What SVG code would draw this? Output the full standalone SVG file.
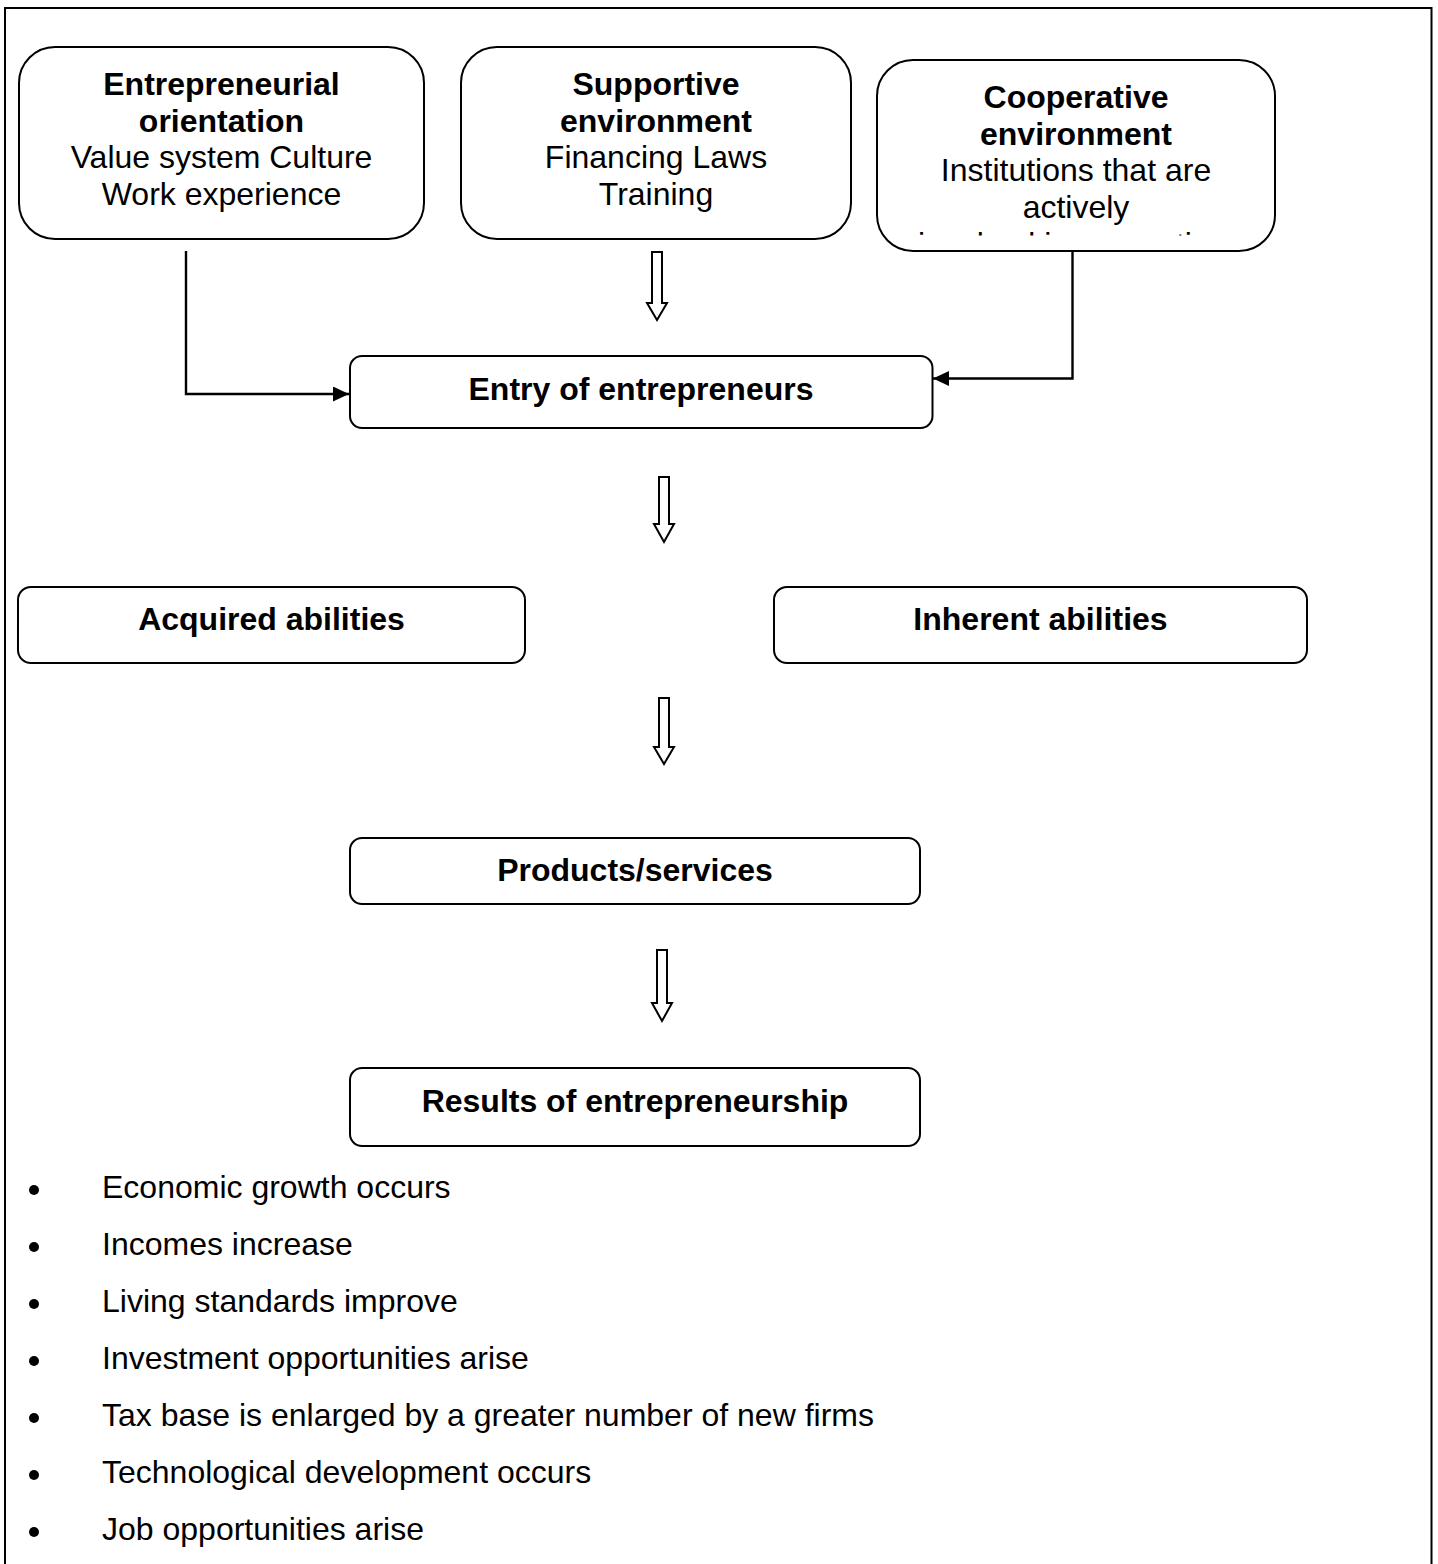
<svg xmlns="http://www.w3.org/2000/svg" width="1438" height="1564" viewBox="0 0 1438 1564">
<style>
  .box { fill: #ffffff; stroke: #000000; stroke-width: 2; }
  .frame { fill: none; stroke: #000000; stroke-width: 2; }
  .t { font-family: "Liberation Sans", Arial, sans-serif; font-size: 32px; fill: #000000; text-anchor: middle; }
  .b { font-weight: bold; }
  .bl { font-family: "Liberation Sans", Arial, sans-serif; font-size: 32px; fill: #000000; }
  .conn { fill: none; stroke: #000000; stroke-width: 2.4; }
  .hollow { fill: #ffffff; stroke: #000000; stroke-width: 2; stroke-linejoin: miter; }
</style>
<defs>
  <marker id="arr" markerUnits="userSpaceOnUse" markerWidth="17" markerHeight="15" refX="16" refY="7.5" orient="auto">
    <path d="M0,0 L16,7.5 L0,15 Z" fill="#000000"/>
  </marker>
  <clipPath id="clip3">
    <rect x="877" y="60" width="398" height="175.5"/>
  </clipPath>
</defs>
<rect width="1438" height="1564" fill="#ffffff"/>
<path class="frame" d="M5,1564 V8 H1431.5 V1564"/>

<g id="connectors">
  <path class="conn" d="M186,251 V394 H349" marker-end="url(#arr)"/>
  <path class="conn" d="M1072.5,251 V378.5 H933" marker-end="url(#arr)"/>
  <path class="hollow" d="M652,252 H662 V303 H667 L657,320 L647,303 H652 Z"/>
  <path class="hollow" d="M659,477 H669 V524 H674 L664,542 L654,524 H659 Z"/>
  <path class="hollow" d="M659,698 H669 V747 H674 L664,764 L654,747 H659 Z"/>
  <path class="hollow" d="M657,950 H667 V1003 H672 L662,1021 L652,1003 H657 Z"/>
</g>

<g id="node-entrepreneurial-orientation">
  <rect class="box" x="19" y="47" width="405" height="192" rx="36" ry="36"/>
  <text class="t b" x="221.5" y="95">Entrepreneurial</text>
  <text class="t b" x="221.5" y="131.5">orientation</text>
  <text class="t" x="221.5" y="168">Value system Culture</text>
  <text class="t" x="221.5" y="204.5">Work experience</text>
</g>

<g id="node-supportive-environment">
  <rect class="box" x="461" y="47" width="390" height="192" rx="36" ry="36"/>
  <text class="t b" x="656" y="95">Supportive</text>
  <text class="t b" x="656" y="131.5">environment</text>
  <text class="t" x="656" y="168">Financing Laws</text>
  <text class="t" x="656" y="204.5">Training</text>
</g>

<g id="node-cooperative-environment">
  <rect class="box" x="877" y="60" width="398" height="191" rx="36" ry="36"/>
  <text class="t b" x="1076" y="108">Cooperative</text>
  <text class="t b" x="1076" y="144.5">environment</text>
  <text class="t" x="1076" y="181">Institutions that are</text>
  <text class="t" x="1076" y="217.5">actively</text>
  <text class="t" x="918" y="254.5" style="text-anchor:start" clip-path="url(#clip3)">involved in supporting</text>
</g>

<g id="node-entry">
  <rect class="box" x="350" y="356" width="582.5" height="72" rx="12" ry="12"/>
  <text class="t b" x="641" y="400">Entry of entrepreneurs</text>
</g>

<g id="node-acquired">
  <rect class="box" x="18" y="587" width="507" height="76" rx="13" ry="13"/>
  <text class="t b" x="271.5" y="630">Acquired abilities</text>
</g>

<g id="node-inherent">
  <rect class="box" x="774" y="587" width="533" height="76" rx="13" ry="13"/>
  <text class="t b" x="1040.5" y="630">Inherent abilities</text>
</g>

<g id="node-products">
  <rect class="box" x="350" y="838" width="570" height="66" rx="12" ry="12"/>
  <text class="t b" x="635" y="881">Products/services</text>
</g>

<g id="node-results">
  <rect class="box" x="350" y="1068" width="570" height="78" rx="12" ry="12"/>
  <text class="t b" x="635" y="1112">Results of entrepreneurship</text>
</g>

<g id="results-list">
  <circle cx="34" cy="1190" r="5"/>
  <text class="bl" x="102" y="1198">Economic growth occurs</text>
  <circle cx="34" cy="1247" r="5"/>
  <text class="bl" x="102" y="1255">Incomes increase</text>
  <circle cx="34" cy="1304" r="5"/>
  <text class="bl" x="102" y="1312">Living standards improve</text>
  <circle cx="34" cy="1361" r="5"/>
  <text class="bl" x="102" y="1369">Investment opportunities arise</text>
  <circle cx="34" cy="1418" r="5"/>
  <text class="bl" x="102" y="1426">Tax base is enlarged by a greater number of new firms</text>
  <circle cx="34" cy="1475" r="5"/>
  <text class="bl" x="102" y="1483">Technological development occurs</text>
  <circle cx="34" cy="1532" r="5"/>
  <text class="bl" x="102" y="1540">Job opportunities arise</text>
</g>
</svg>
